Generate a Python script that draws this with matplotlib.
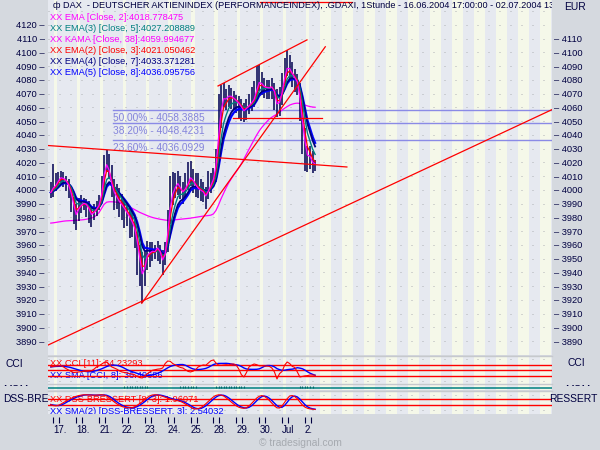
import numpy as np
import pandas as pd
import matplotlib
matplotlib.use('Agg')
import matplotlib.pyplot as plt
from matplotlib.transforms import Bbox

plt.rcParams['font.family'] = ['Liberation Sans Narrow', 'Liberation Sans', 'DejaVu Sans']

# DAX hourly bars, 16.06.2004 17:00 - 02.07.2004 13:00
closes = [3998, 4003, 4004, 4008, 4010, 4008, 4006, 4002, 3995, 3986,
          3978, 3988, 3990, 3991, 3989, 3985, 3980, 3984, 3987, 3990,
          4000, 4018, 4022, 4012, 4000, 3995, 3993, 3990, 3988, 3985,
          3982, 3979, 3975, 3970, 3958, 3945, 3933, 3945, 3957, 3955,
          3956, 3955, 3959, 3954, 3946, 3955, 3975, 3996, 4002, 4004,
          4006, 4000, 3997, 4002, 4006, 4011, 4006, 4002, 4000, 3999,
          3998, 3994, 4001, 4005, 4010, 4022, 4048, 4066, 4071, 4066,
          4069, 4068, 4066, 4064, 4062, 4059, 4056, 4060, 4062, 4064,
          4067, 4075, 4081, 4077, 4074, 4074, 4074, 4075, 4070, 4058,
          4064, 4074, 4086, 4092, 4088, 4083, 4080, 4077, 4062, 4042,
          4028, 4020, 4024, 4018, 4018]
highs = [4006, 4019, 4012, 4013, 4014, 4013, 4010, 4008, 4000, 3995,
         3990, 3994, 3996, 3994, 3993, 3992, 3988, 3990, 3992, 3996,
         4010, 4025, 4029, 4026, 4018, 4008, 4004, 4001, 3997, 3993,
         3990, 3988, 3985, 3980, 3969, 3960, 3955, 3955, 3963, 3962,
         3962, 3960, 3963, 3960, 3956, 3962, 3985, 4010, 4013, 4012,
         4014, 4010, 4006, 4012, 4020, 4021, 4015, 4012, 4012, 4008,
         4006, 4002, 4014, 4012, 4016, 4030, 4070, 4076, 4078, 4073,
         4076, 4074, 4072, 4069, 4068, 4066, 4063, 4066, 4070, 4075,
         4079, 4090, 4091, 4086, 4081, 4080, 4080, 4081, 4078, 4073,
         4075, 4085, 4096, 4102, 4098, 4093, 4088, 4084, 4078, 4062,
         4045, 4032, 4032, 4028, 4022]
lows = [3994, 3995, 3999, 4002, 4004, 4002, 3999, 3994, 3984, 3975,
        3971, 3977, 3983, 3985, 3980, 3976, 3973, 3978, 3981, 3985,
        3994, 4002, 4013, 4008, 3995, 3985, 3986, 3980, 3978, 3972,
        3974, 3965, 3966, 3958, 3938, 3930, 3918, 3930, 3942, 3944,
        3948, 3950, 3948, 3946, 3938, 3945, 3955, 3975, 3989, 3994,
        3996, 3993, 3990, 3995, 4000, 4003, 3998, 3995, 3994, 3992,
        3991, 3986, 3993, 3998, 4002, 4006, 4020, 4045, 4060, 4058,
        4060, 4059, 4058, 4056, 4052, 4050, 4049, 4051, 4055, 4057,
        4060, 4066, 4072, 4069, 4067, 4066, 4066, 4066, 4058, 4053,
        4054, 4062, 4076, 4083, 4080, 4075, 4071, 4069, 4050, 4026,
        4014, 4013, 4015, 4012, 4014]
kama = [3975.8, 3976.0, 3976.3, 3976.6, 3976.9, 3977.2, 3977.4, 3977.5, 3977.6, 3977.7,
        3977.8, 3978.0, 3978.1, 3978.3, 3978.6, 3979.0, 3979.5, 3980.2, 3981.5, 3983.5,
        3986.5, 3989.5, 3991.0, 3991.3, 3991.3, 3991.2, 3991.0, 3990.6, 3990.0, 3989.2,
        3988.3, 3987.5, 3986.6, 3985.6, 3984.6, 3983.6, 3982.8, 3982.0, 3981.2, 3980.5,
        3979.9, 3979.4, 3979.0, 3978.6, 3978.3, 3978.0, 3977.8, 3977.8, 3978.0, 3978.2,
        3978.4, 3978.6, 3978.8, 3979.0, 3979.2, 3979.4, 3979.7, 3980.0, 3980.3, 3980.6,
        3980.9, 3981.1, 3981.3, 3981.6, 3982.5, 3985.0, 3989.0, 3993.5, 3997.5, 4001.5,
        4005.0, 4008.0, 4010.8, 4013.3, 4016.0, 4019.0, 4022.5, 4026.0, 4029.5, 4033.0,
        4036.5, 4039.8, 4042.8, 4045.3, 4047.5, 4049.5, 4051.5, 4052.8, 4054.0, 4055.0,
        4056.5, 4058.0, 4059.3, 4060.5, 4061.6, 4062.3, 4062.8, 4063.0, 4062.8, 4062.3,
        4061.6, 4061.0, 4060.5, 4060.2, 4060.0]
cci = [60, 70, 75, 78, 80, 60, 30, 5, -20, -40,
       -35, -30, -25, -15, -20, -15, -10, 20, 60, 80,
       110, 140, 150, 100, 60, 40, 20, -10, -30, -40,
       -50, -60, -66, -80, -110, -130, -137, -100, -60, -30,
       0, 10, 20, 25, 40, 120, 165, 160, 120, 95,
       70, 50, 40, 10, -20, -30, -15, 10, 60, 80,
       95, 90, 130, 170, 184, 130, 95, 90, 95, 100,
       95, 110, 112, 90, 20, -80, -120, -40, 60, 90,
       112, 100, 80, 80, 75, 75, 70, 40, -30, -155,
       -60, -20, 90, 148, 120, 70, 50, -30, -120, -110,
       -100, -95, -84, -85, -88]
dss = [35, 28, 26, 30, 38, 48, 58, 68, 76, 84,
       90, 95, 98, 100, 100, 99, 98, 97, 98, 99,
       100, 98, 92, 80, 66, 52, 40, 30, 22, 17,
       14, 13, 14, 20, 30, 42, 54, 68, 82, 93,
       99, 100, 99, 95, 90, 84, 78, 72, 68, 64,
       60, 56, 48, 38, 28, 18, 8, 5, 8, 14,
       26, 40, 56, 72, 86, 96, 100, 98, 92, 80,
       66, 52, 38, 26, 17, 12, 10, 14, 26, 42,
       60, 78, 90, 95, 90, 78, 62, 44, 26, 13,
       12, 26, 50, 74, 92, 95, 88, 74, 52, 32,
       18, 10, 6, 4, 2]
mom = [0, 0, 0, 0, 0, 0, 0, 0, 0, 0,
       0, 0, 0, 0, 0, 0, 0, 0, 0, 0,
       0, 0, 0, 0, 0, 0, 0, 0, 0, 1,
       1, 1, 1, 1, 1, 1, 1, 1, 1, 0,
       0, 0, 0, 0, 0, 0, 0, 0, 0, 0,
       0, 1, 1, 1, 1, 1, 1, 1, 0, 0,
       0, 0, 0, 0, 0, 1, 1, 1, 1, 1,
       1, 1, 1, 1, 1, 1, 1, 0, 0, 0,
       0, 0, 0, 0, 0, 0, 0, 0, 0, 0,
       0, 0, 0, 0, 0, 0, 0, 0, 1, 1,
       1, 1, 1, 1, 0]

day_labels = ['17.', '18.', '21.', '22.', '23.', '24.', '25.', '28.', '29.', '30.', 'Jul', '2.']
day_start = [1, 10, 19, 28, 37, 46, 55, 64, 73, 82, 91, 100]

fib_levels = [4058.3885, 4048.4231, 4036.0929]
fib_labels = ['50.00% - 4058.3885', '38.20% - 4048.4231', '23.60% - 4036.0929']

# red trend lines: (bar, price) -> (bar, price)
trend_x0 = [-1.1, -1.1, 35.8, 65.8, 71.7, 82.3]
trend_y0 = [4032.2, 3887.1, 3917.5, 4075.5, 4052.4, 4136.9]
trend_x1 = [116.5, 197.2, 108.0, 100.8, 106.7, 118.5]
trend_y1 = [4016.6, 4058.3, 4104.0, 4109.0, 4052.4, 4136.9]

ema_spans = [8, 7, 5, 3, 2]
ema_colors = ['#0000FF', '#000080', '#008080', '#FF0000', '#FF00FF']
ema_widths = [1.6, 1.3, 1.0, 0.9, 0.9]

legend_text = ['XX EMA [Close, 2]:4018.778475', 'XX EMA(3) [Close, 5]:4027.208889',
               'XX KAMA [Close, 38]:4059.994677', 'XX EMA(2) [Close, 3]:4021.050462',
               'XX EMA(4) [Close, 7]:4033.371281', 'XX EMA(5) [Close, 8]:4036.095756']
legend_colors = ['#FF00FF', '#008080', '#FF00FF', '#FF0000', '#000080', '#0000FF']

title = ('ф DAX  - DEUTSCHER AKTIENINDEX (PERFORMANCEINDEX), .GDAXI, 1Stunde - '
         '16.06.2004 17:00:00 - 02.07.2004 13:0')

FS = 6.7        # legend / pane texts
FS_TITLE = 6.6
FS_TICK = 6.7
FS_LBL = 7.4
NAVY = '#000040'
GRAY = '#E6E9F0'
CREAM = '#F5F8E9'
XMIN, XMAX = -1.09, 197.2


def fx(x):
    return x / 600


def fy(y):
    return 1 - y / 450


def box(x0, y0, x1, y1):
    return [fx(x0), fy(y1), (x1 - x0) / 600, (y1 - y0) / 450]


def stripes(a):
    a.set_facecolor(GRAY)
    for s in day_start:
        a.axvspan(s + 0.3, s + 1.6, color=CREAM, lw=0, zorder=0)
    for b in np.arange(105.9, XMAX, 8.655):
        a.axvspan(b, b + 4.327, color=CREAM, lw=0, zorder=0)
    a.set_xlim(XMIN, XMAX)
    a.set_xticks([])
    for sp in a.spines.values():
        sp.set_visible(False)


fig = plt.figure(figsize=(6, 4.5), dpi=100, facecolor='#D5D9DF')

ax = fig.add_axes(box(48, 0, 552, 355))
ax_cci = fig.add_axes(box(48, 356, 552, 384))
ax_mom = fig.add_axes(box(48, 384, 552, 390))
ax_dss = fig.add_axes(box(48, 390.5, 552, 413.5))
for a in (ax, ax_cci, ax_mom, ax_dss):
    stripes(a)
for a in (ax_cci, ax_mom, ax_dss):
    a.set_yticks([])
    a.spines['top'].set_visible(True)
    a.spines['top'].set_color('#C6C9CD')
    a.spines['top'].set_linewidth(1.0)

idx = np.arange(len(closes))
close_s = pd.Series(closes, dtype=float)

# ---- main price pane
ax.set_ylim(3879.9, 4138.0)
yt = np.arange(3890, 4121, 10)
ax.set_yticks(yt)
ax.set_yticklabels([f'{v} \u2013' for v in yt])
ax.tick_params(axis='y', length=0, pad=2.5, labelsize=FS_TICK, labelcolor=NAVY)
for v in np.arange(3880, 4131, 10):
    ax.axhline(v, color='#B0B2B6', lw=0.72, ls=(0, (1, 10)), zorder=1)

axr = ax.twinx()
axr.set_ylim(ax.get_ylim())
yr = np.arange(3890, 4111, 10)
axr.set_yticks(yr)
axr.set_yticklabels([f'\u2013 {v}' for v in yr])
axr.tick_params(axis='y', length=0, pad=1.5, labelsize=FS_TICK, labelcolor=NAVY)
for sp in axr.spines.values():
    sp.set_visible(False)

for lev, lab in zip(fib_levels, fib_labels):
    ax.plot([24.3, XMAX], [lev, lev], color='#8A8AE6', lw=1.0, zorder=2)
    ax.annotate(lab, (24.6, lev), xytext=(0, -2.2), textcoords='offset points',
                va='top', ha='left', fontsize=7.3, color='#8484DC', zorder=2)

ax.plot(idx, kama, color='#FF00FF', lw=0.9, zorder=3)
ax.vlines(idx, lows, highs, color='#000050', lw=1.1, zorder=4)
for span, col, w in zip(ema_spans, ema_colors, ema_widths):
    ema = close_s.ewm(span=span, adjust=False).mean()
    ax.plot(idx, ema, color=col, lw=w, zorder=5)

for x0, y0, x1, y1 in zip(trend_x0, trend_y0, trend_x1, trend_y1):
    ax.plot([x0, x1], [y0, y1], color='#FF0000', lw=0.9, zorder=6)

ax.text(fx(53), fy(6), title, transform=fig.transFigure,
        fontsize=FS_TITLE, color=NAVY, va='center', ha='left', clip_on=True, zorder=7)
for k, (t, c) in enumerate(zip(legend_text, legend_colors)):
    ax.text(fx(50.5), fy(17 + 11.04 * k), t, transform=fig.transFigure, fontsize=FS,
            color=c, va='center', ha='left', clip_on=True, zorder=7)

# ---- CCI pane
ax_cci.set_ylim(-245, 255)
for v in (100, 0, -100):
    ax_cci.axhline(v, color='#FF0000', lw=1.0, zorder=2)
for v in (200, -200):
    ax_cci.axhline(v, color='#B0B2B6', lw=0.72, ls=(0, (1, 10)), zorder=1)
cci_s = pd.Series(cci, dtype=float)
ax_cci.plot(idx, cci_s.rolling(8, min_periods=1).mean(), color='#0000FF', lw=1.0, zorder=3)
ax_cci.plot(idx, cci, color='#FF0000', lw=0.8, zorder=4)
ax_cci.text(fx(50.5), fy(363), 'XX CCI [11]: 64.23293', transform=fig.transFigure,
            fontsize=FS, color='#FF0000', va='center', clip_on=True, zorder=1.5)
ax_cci.text(fx(50.5), fy(375.5), 'XX SMA [CCI, 8]: 36.40686', transform=fig.transFigure,
            fontsize=FS, color='#0000FF', va='center', clip_on=True, zorder=1.5)

# ---- momentum strip
ax_mom.set_ylim(-1.25, 1.75)
ax_mom.axhline(0, color='#008080', lw=1.1, zorder=2)
ax_mom.vlines(idx, 0, mom, color='#006A6A', lw=0.8, zorder=3)

# ---- DSS pane
ax_dss.set_ylim(-24.7, 128.7)
for v in (70, 30):
    ax_dss.axhline(v, color='#FF0000', lw=1.0, zorder=2)
for v in (100, 0):
    ax_dss.axhline(v, color='#B0B2B6', lw=0.72, ls=(0, (1, 10)), zorder=1)
dss_s = pd.Series(dss, dtype=float)
ax_dss.plot(idx, dss_s.rolling(3, min_periods=1).mean(), color='#0000FF', lw=1.0, zorder=3)
ax_dss.plot(idx, dss, color='#FF0000', lw=0.8, zorder=4)
ax_dss.text(fx(50.5), fy(399.5), 'XX DSS-BRESSERT [8, 3]: 1.96071', transform=fig.transFigure,
            fontsize=FS, color='#FF0000', va='center', clip_on=True, zorder=1.5)
ax_dss.text(fx(50.5), fy(412), 'XX SMA(2) [DSS-BRESSERT, 3]: 2.54032', transform=fig.transFigure,
            fontsize=FS, color='#0000FF', va='center', clip_on=True, zorder=1.5)

# ---- date axis
ax_date = fig.add_axes(box(48, 413.5, 552, 423))
ax_date.set_xlim(XMIN, XMAX)
ax_date.patch.set_visible(False)
for sp in ax_date.spines.values():
    sp.set_visible(False)
ax_date.set_yticks([])
ax_date.set_xticks(day_start)
ax_date.set_xticklabels(day_labels)
ax_date.set_xticks([s + 2.36 for s in day_start], minor=True)
ax_date.tick_params(axis='x', which='both', direction='in', length=4.3, width=0.8,
                    color=NAVY, labelsize=FS_TICK + 0.3, labelcolor=NAVY, pad=1.5)
for lab in ax_date.get_xticklabels():
    lab.set_horizontalalignment('left')

# ---- margin labels
fig.text(fx(564), fy(7), 'EUR', fontsize=FS_LBL, color=NAVY, va='center')
fig.text(fx(5), fy(364), 'CCI', fontsize=FS_LBL, color=NAVY, va='center')
fig.text(fx(568), fy(363), 'CCI', fontsize=FS_LBL, color=NAVY, va='center')
fig.text(fx(3), fy(399), 'DSS-BRE', fontsize=FS_LBL, color=NAVY, va='center')
fig.text(fx(597), fy(399), 'RESSERT', fontsize=FS_LBL, color=NAVY, va='center', ha='right')
clip = Bbox([[0, 450 - 386.4], [600, 450 - 382.6]])
for xpos in (3, 565):
    t = fig.text(fx(xpos), fy(390), 'MOM', fontsize=FS_LBL, color=NAVY, va='center')
    t.set_clip_box(clip)
    t.set_clip_on(True)
fig.text(fx(300), fy(443), '\u00a9 tradesignal.com', fontsize=FS_LBL, color='#A6AAB0',
         ha='center', va='center')

fig.savefig('out.png', dpi=100, facecolor=fig.get_facecolor())
